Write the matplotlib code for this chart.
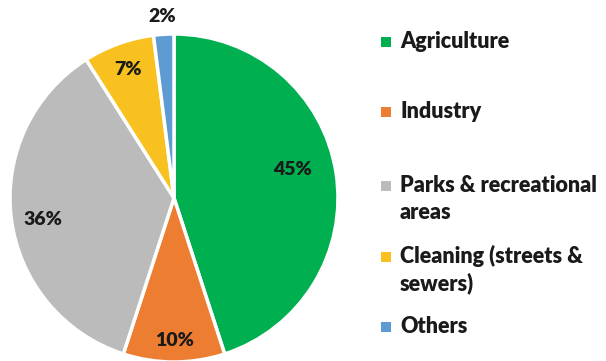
import matplotlib
matplotlib.use("Agg")
import matplotlib.pyplot as plt
import numpy as np

categories = ["Agriculture", "Industry", "Parks & recreational areas", "Cleaning (streets & sewers)", "Others"]
legend_labels = ["Agriculture", "Industry", "Parks & recreational\nareas", "Cleaning (streets &\nsewers)", "Others"]
values = [45, 10, 36, 7, 2]
colors = ["#00B050", "#ED7D31", "#BBBBBB", "#F9C11F", "#5E9BD2"]

# label placement (layout): radial distance and angle tweak
label_dist = [0.74, 0.87, 0.81, 0.83, 1.11]
label_dang = [4.5, 0, 2, 0, 0]

W, H = 606, 361
fig = plt.figure(figsize=(W / 100, H / 100), dpi=100)
plt.rcParams['font.family'] = ['Lato', 'DejaVu Sans']

cx, cy, r = 174, 198, 164
ax = fig.add_axes([(cx - r) / W, (H - cy - r) / H, 2 * r / W, 2 * r / H])
wedges, _ = ax.pie(values, colors=colors, startangle=90, counterclock=False,
                   wedgeprops=dict(edgecolor="white", linewidth=2.5), radius=1)
ax.set_xlim(-1, 1)
ax.set_ylim(-1, 1)
ax.set_aspect("equal")
ax.axis("off")

for w, v, d, da in zip(wedges, values, label_dist, label_dang):
    ang = np.deg2rad((w.theta1 + w.theta2) / 2 + da)
    ax.text(d * np.cos(ang), d * np.sin(ang), f"{v}%", ha="center", va="center",
            fontsize=14, fontweight="heavy", color="#1a1a1a", clip_on=False)

# legend
leg_y = [42, 112, 186, 257, 327]
line_gap = 27
lax = fig.add_axes([0, 0, 1, 1])
lax.set_xlim(0, W)
lax.set_ylim(H, 0)
lax.axis("off")
for lab, c, y in zip(legend_labels, colors, leg_y):
    lax.scatter([386], [y], marker="s", s=50, color=c, linewidths=0)
    for i, line in enumerate(lab.split("\n")):
        lax.text(400, y + 6 + i * line_gap, line, ha="left", va="baseline", fontsize=15.5,
                 fontweight="heavy", color="#1a1a1a")

fig.savefig("out.png", dpi=100)
